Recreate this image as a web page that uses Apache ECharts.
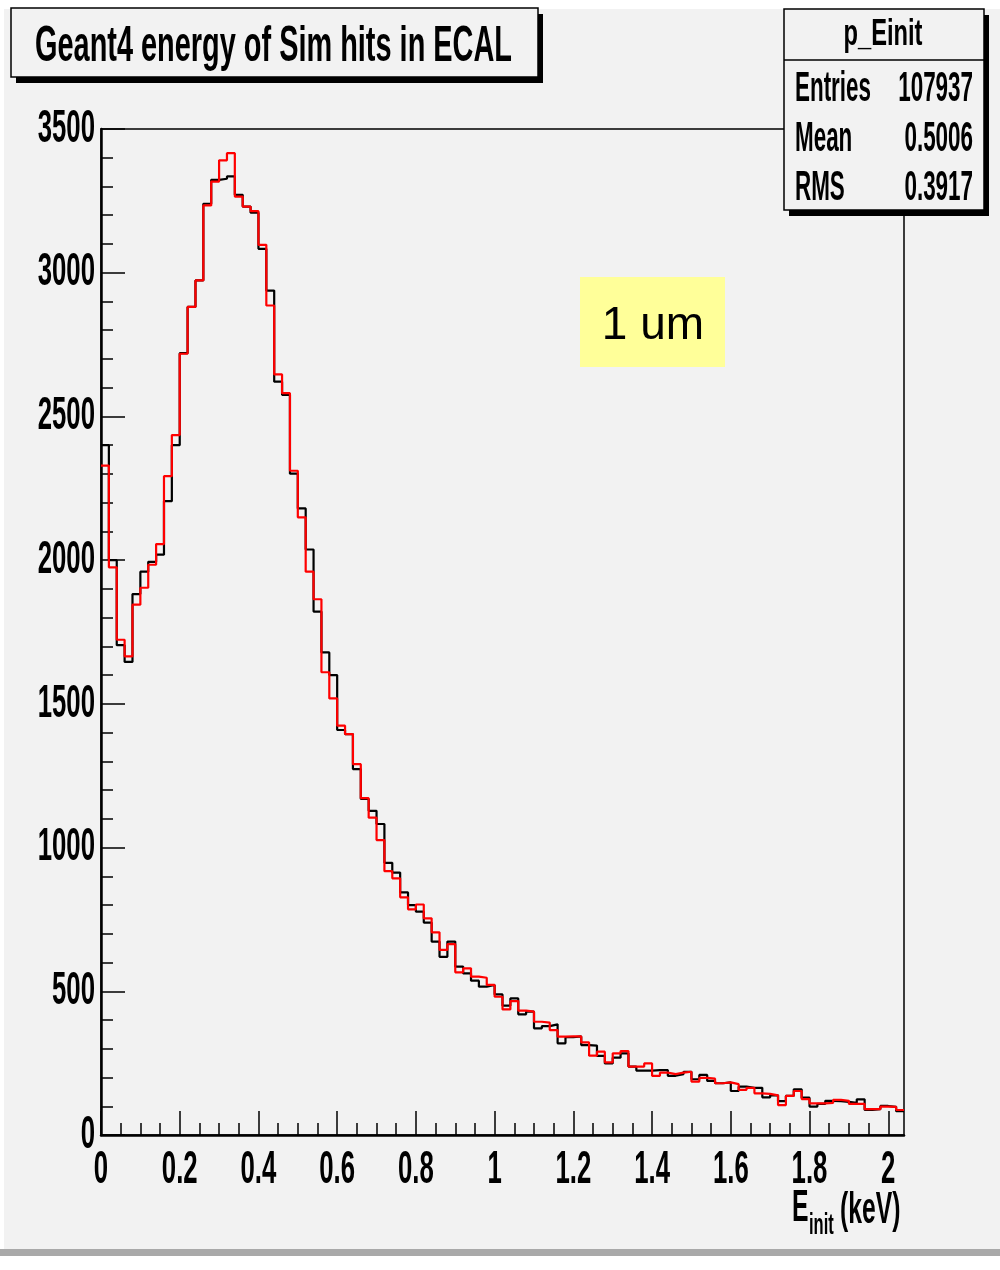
<!DOCTYPE html>
<html>
<head>
<meta charset="utf-8">
<script src="https://cdn.jsdelivr.net/npm/echarts@6/dist/echarts.min.js"></script>
<style>
html, body { margin: 0; padding: 0; background: #fff; }
#main { width: 1000px; height: 1270px; }
</style>
</head>
<body>
<div id="main"></div>
<script>
// p_Einit: 102 bins of 0.02 keV from 0 to 2.04
var binWidth = 0.02;
var xMax = 2.04;
var yMax = 3500;

// black histogram, bin contents
var blackCounts = [
  2400, 2000, 1704, 1646, 1882, 1960, 1994, 2019, 2205, 2400,
  2720, 2881, 2973, 3240, 3323, 3327, 3335, 3271, 3230, 3209,
  3083, 2938, 2621, 2575, 2301, 2180, 2037, 1821, 1679, 1600,
  1409, 1395, 1273, 1169, 1128, 1082, 947, 913, 844, 800,
  777, 739, 673, 620, 673, 586, 562, 537, 516, 522,
  489, 450, 475, 420, 429, 371, 379, 385, 319, 340,
  343, 313, 311, 275, 249, 269, 284, 238, 224, 224,
  226, 226, 206, 212, 220, 194, 209, 188, 180, 183,
  153, 168, 164, 164, 131, 138, 118, 136, 159, 130,
  99, 108, 119, 118, 115, 112, 124, 87, 90, 101,
  98, 83
];
// red histogram, bin contents
var redCounts = [
  2329, 1975, 1723, 1665, 1845, 1904, 1984, 2056, 2292, 2435,
  2718, 2881, 2973, 3234, 3317, 3391, 3416, 3265, 3230, 3214,
  3097, 2886, 2646, 2581, 2311, 2149, 1960, 1864, 1610, 1519,
  1424, 1395, 1290, 1172, 1104, 1026, 918, 893, 827, 785,
  802, 754, 705, 644, 664, 566, 580, 551, 547, 522,
  481, 437, 466, 433, 429, 394, 391, 365, 342, 343,
  343, 322, 276, 290, 253, 284, 292, 238, 238, 249,
  206, 217, 212, 217, 220, 186, 199, 196, 180, 183,
  177, 157, 164, 145, 143, 138, 104, 136, 153, 125,
  110, 110, 112, 122, 119, 108, 108, 90, 90, 99,
  98, 87
];

var xLabels = [0, 0.2, 0.4, 0.6, 0.8, 1, 1.2, 1.4, 1.6, 1.8, 2];
var xMinorStep = 0.05;
var statNames = ['Entries', 'Mean', 'RMS'];
var statValues = ['107937', '0.5006', '0.3917'];

// bin edges -> step points (last bin closed at xMax)
function toSteps(counts) {
  var pts = counts.map(function (c, i) {
    return [+(i * binWidth).toFixed(2), c];
  });
  pts.push([xMax, counts[counts.length - 1]]);
  return pts;
}

var xMinor = [];
for (var v = xMinorStep; v <= xMax + 1e-9; v += xMinorStep) {
  xMinor.push(+v.toFixed(2));
}

// ROOT text here is strongly condensed, squeeze it horizontally
var measureCtx = document.createElement('canvas').getContext('2d');
function squeeze(text, font, width) {
  measureCtx.font = font;
  return width / measureCtx.measureText(text).width;
}

var boldFont = '"Liberation Sans", Arial, sans-serif';
var titleFont = 'bold 50px ' + boldFont;
var statFont = 'bold 42px ' + boldFont;
var headFont = 'bold 36px ' + boldFont;
var labelSqueeze = 0.56;

var titleScale = squeeze('Geant4 energy of Sim hits in ECAL', titleFont, 477);
var statScale = squeeze('Entries', statFont, 76);
var headScale = squeeze('p_Einit', headFont, 79);

function squeezedText(text, x, y, font, scale, align, z) {
  return {
    type: 'text', x: x, y: y, scaleX: scale, z: z || 101,
    style: { text: text, font: font, fill: '#000', textAlign: align || 'left', textVerticalAlign: 'middle' }
  };
}

var graphics = [
  // pad
  { type: 'rect', z: -100, shape: { x: 4, y: 9, width: 996, height: 1240 }, style: { fill: '#f2f2f2' } },
  { type: 'rect', z: -100, shape: { x: 0, y: 1249, width: 1000, height: 7 }, style: { fill: '#a9a9a9' } },
  // title box
  { type: 'rect', z: 100, shape: { x: 16, y: 14, width: 527, height: 69 }, style: { fill: '#000' } },
  { type: 'rect', z: 100, shape: { x: 11, y: 8, width: 527, height: 69 }, style: { fill: '#f2f2f2', stroke: '#000', lineWidth: 1.5 } },
  squeezedText('Geant4 energy of Sim hits in ECAL', 35, 47, titleFont, titleScale),
  // stats box
  { type: 'rect', z: 100, shape: { x: 789, y: 15, width: 200, height: 201 }, style: { fill: '#000' } },
  { type: 'rect', z: 100, shape: { x: 784, y: 9, width: 200, height: 201 }, style: { fill: '#f2f2f2', stroke: '#000', lineWidth: 1.5 } },
  { type: 'line', z: 101, shape: { x1: 784, y1: 60, x2: 984, y2: 60 }, style: { stroke: '#000', lineWidth: 1.5 } },
  squeezedText('p_Einit', 883, 35, headFont, headScale, 'center'),
  // "1 um" label
  { type: 'rect', z: 100, shape: { x: 580, y: 277, width: 145, height: 90 }, style: { fill: '#ffff99' } },
  { type: 'text', z: 101, x: 653, y: 326, style: { text: '1 um', font: '46px ' + boldFont, fill: '#000', textAlign: 'center', textVerticalAlign: 'middle' } },
  // x axis title
  squeezedText('E', 792, 1209, 'bold 45px ' + boldFont, 0.55),
  squeezedText('init', 809, 1226, 'bold 30px ' + boldFont, 0.55),
  squeezedText('(keV)', 840, 1211, 'bold 45px ' + boldFont, 0.55)
];
var rowY = [89, 139, 188];
statNames.forEach(function (name, i) {
  graphics.push(squeezedText(name, 795, rowY[i], statFont, statScale, 'left'));
  graphics.push(squeezedText(statValues[i], 973, rowY[i], statFont, statScale, 'right'));
});

var chart = echarts.init(document.getElementById('main'), null, { renderer: 'canvas' });

var labelStyle = { color: '#000', fontWeight: 'bold', fontSize: 46, fontFamily: boldFont };

var option = {
  animation: false,
  backgroundColor: '#ffffff',
  grid: {
    left: 101, right: 96, top: 129, bottom: 135,
    outerBoundsMode: 'none', containLabel: false,
    show: true, borderColor: '#000', borderWidth: 1.5, backgroundColor: 'transparent'
  },
  xAxis: [
    {
      type: 'value', min: 0, max: xMax, position: 'bottom',
      axisLine: { show: true, lineStyle: { color: '#000', width: 2.5 } },
      axisTick: { show: true, inside: true, length: 24, customValues: xLabels, lineStyle: { color: '#000', width: 1.5 } },
      axisLabel: Object.assign({ show: true, margin: 12, customValues: xLabels, formatter: function (v) { return String(v); } }, labelStyle),
      splitLine: { show: false }
    },
    {
      type: 'value', min: 0, max: xMax, position: 'bottom',
      axisLine: { show: false },
      axisTick: { show: true, inside: true, length: 12, customValues: xMinor, lineStyle: { color: '#000', width: 1.5 } },
      axisLabel: { show: false },
      splitLine: { show: false }
    }
  ],
  yAxis: {
    type: 'value', min: 0, max: yMax, interval: 500,
    axisLine: { show: true, lineStyle: { color: '#000', width: 2.5 } },
    axisTick: { show: true, inside: true, length: 24, lineStyle: { color: '#000', width: 1.5 } },
    minorTick: { show: true, splitNumber: 5, length: 12, lineStyle: { color: '#000', width: 1.5 } },
    axisLabel: Object.assign({ margin: 6, formatter: function (v) { return String(v); } }, labelStyle),
    splitLine: { show: false },
    minorSplitLine: { show: false }
  },
  series: [
    {
      type: 'line', name: 'black', step: 'end', symbol: 'none', z: 3,
      data: toSteps(blackCounts),
      lineStyle: { color: '#000', width: 2.2 }
    },
    {
      type: 'line', name: 'red', step: 'end', symbol: 'none', z: 4,
      data: toSteps(redCounts),
      lineStyle: { color: '#ff0000', width: 2.2 }
    }
  ],
  graphic: { elements: graphics }
};

chart.setOption(option);

// squeeze the axis tick labels like the ROOT fonts
chart.getZr().storage.getDisplayList(true).forEach(function (el) {
  if (el.style && el.style.text != null && el.style.text !== '' &&
      (el.style.fontSize === 46 || /46px/.test(el.style.font || '')) &&
      el.style.text !== '1 um') {
    el.scaleX = labelSqueeze;
    el.markRedraw();
  }
});
chart.getZr().refreshImmediately();
</script>
</body>
</html>
